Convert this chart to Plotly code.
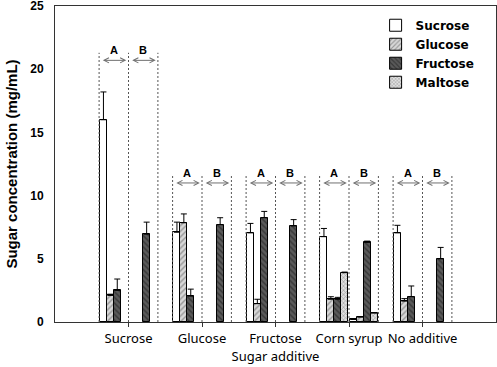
import plotly.graph_objects as go

groups = ["Sucrose", "Glucose", "Fructose", "Corn syrup", "No additive"]
subgroups = ["A", "B"]
series = ["Sucrose", "Glucose", "Fructose", "Maltose"]

# values in order: (group, subgroup) -> Sucrose A, Sucrose B, Glucose A, Glucose B, ...
sucrose_vals = [16.0, None, 7.1, None, 7.05, None, 6.75, 0.2, 7.05, None]
sucrose_err = [2.2, 0, 0.8, 0, 0.75, 0, 0.65, 0, 0.6, 0]
glucose_vals = [2.1, None, 7.85, None, 1.45, None, 1.8, 0.4, 1.65, None]
glucose_err = [0.1, 0, 0.7, 0, 0.35, 0, 0.2, 0, 0.2, 0]
fructose_vals = [2.5, 6.95, 2.05, 7.7, 8.25, 7.6, 1.8, 6.3, 2.0, 5.0]
fructose_err = [0.9, 0.95, 0.55, 0.55, 0.5, 0.5, 0.15, 0.1, 0.85, 0.9]
maltose_vals = [None, None, None, None, None, None, 3.9, 0.7, None, None]
maltose_err = [0, 0, 0, 0, 0, 0, 0.05, 0.05, 0, 0]

bracket_top = [21.3, 11.6, 11.6, 11.6, 11.6]

values = [sucrose_vals, glucose_vals, fructose_vals, maltose_vals]
errors = [sucrose_err, glucose_err, fructose_err, maltose_err]

styles = [
    dict(color="white", pattern=None),
    dict(color="#d0d0d0", pattern=dict(shape="/", fgcolor="#555555", bgcolor="#d8d8d8", size=4, solidity=0.35)),
    dict(color="#444444", pattern=dict(shape="\\", fgcolor="#111111", bgcolor="#5a5a5a", size=4, solidity=0.35)),
    dict(color="#cccccc", pattern=dict(shape="x", fgcolor="#666666", bgcolor="#e0e0e0", size=3, solidity=0.4)),
]

SUB_W = 0.4
BAR_W = 0.094

fig = go.Figure()
for i, name in enumerate(series):
    xs, ys, es = [], [], []
    for g in range(len(groups)):
        for s in range(len(subgroups)):
            k = g * len(subgroups) + s
            x0 = (g + 1) - SUB_W + s * SUB_W
            xs.append(x0 + 0.012 + (i + 0.5) * BAR_W)
            ys.append(values[i][k])
            es.append(errors[i][k])
    marker = dict(color=styles[i]["color"], line=dict(color="black", width=1))
    if styles[i]["pattern"]:
        marker["pattern"] = styles[i]["pattern"]
    fig.add_trace(go.Bar(
        x=xs, y=ys, name=name, width=BAR_W, marker=marker,
        error_y=dict(type="data", symmetric=False, array=es, arrayminus=[0] * len(es),
                     color="black", thickness=1, width=3),
    ))

# dashed brackets, arrows, labels
for g in range(len(groups)):
    c = g + 1
    top = bracket_top[g]
    for xl in [c - SUB_W, c, c + SUB_W]:
        fig.add_trace(go.Scatter(x=[xl, xl], y=[0, top], mode="lines",
                                 line=dict(color="#555555", width=1, dash="2px,2px"),
                                 showlegend=False, hoverinfo="skip"))
    for s, lab in enumerate(subgroups):
        x0 = c - SUB_W + s * SUB_W
        x1 = x0 + SUB_W
        fig.add_annotation(x=x1 - 0.03, y=top - 0.6, ax=x0 + 0.03, ay=top - 0.6,
                           xref="x", yref="y", axref="x", ayref="y",
                           showarrow=True, arrowhead=5, startarrowhead=5,
                           arrowside="end+start", arrowsize=1.0, startarrowsize=1.0,
                           arrowwidth=1, arrowcolor="#707070", text="")
        fig.add_annotation(x=(x0 + x1) / 2, y=top + 0.2, xref="x", yref="y",
                           text=lab, showarrow=False,
                           font=dict(family="Liberation Sans", size=11, color="black", weight="bold"))

fig.update_layout(
    width=497, height=367,
    margin=dict(l=55, r=1, t=6, b=45),
    plot_bgcolor="white", paper_bgcolor="white",
    barmode="overlay", bargap=0,
    showlegend=True,
    legend=dict(x=0.727, y=0.985, xanchor="left", yanchor="top",
                bgcolor="rgba(0,0,0,0)", borderwidth=0,
                font=dict(family="DejaVu Sans", size=12, color="black", weight="bold"),
                tracegroupgap=0, itemwidth=30),
    xaxis=dict(range=[0, 6], tickvals=[1, 2, 3, 4, 5], ticktext=groups,
               showline=True, linecolor="#333333", linewidth=1, mirror=True,
               ticks="outside", ticklen=4, tickcolor="#333333", showgrid=False, zeroline=False,
               automargin=False,
               tickfont=dict(family="Noto Sans", size=13, color="black"),
               title=dict(text="Sugar additive", standoff=4,
                          font=dict(family="Noto Sans", size=13, color="black"))),
    yaxis=dict(range=[0, 25], tickvals=[0, 5, 10, 15, 20, 25],
               showline=True, linecolor="#333333", linewidth=1, mirror=True,
               ticks="", showgrid=False, zeroline=False, ticklabelstandoff=8,
               ticklabeloverflow="allow",
               automargin=False,
               tickfont=dict(family="Liberation Sans", size=12, color="black", weight="bold"),
               title=dict(text="Sugar concentration (mg/mL)", standoff=8,
                          font=dict(family="Liberation Sans", size=15, color="black", weight="bold"))),
)

fig.write_html("out.html", config={"displayModeBar": False},
               post_script="document.body.style.margin='0';")
